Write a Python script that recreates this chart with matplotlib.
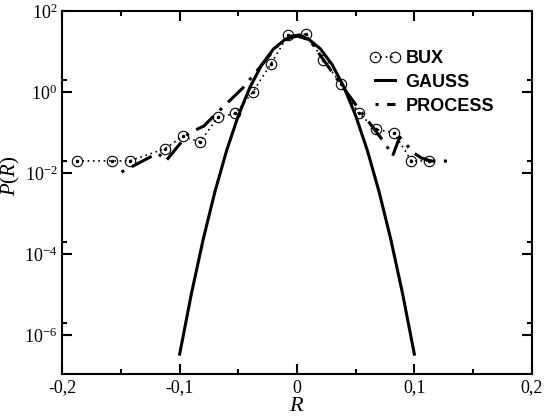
import matplotlib
matplotlib.use('Agg')
import matplotlib.pyplot as plt
from matplotlib.lines import Line2D
from matplotlib.legend_handler import HandlerLine2D
from matplotlib.ticker import FixedLocator, NullFormatter

plt.rcParams['font.family'] = 'Liberation Serif'
plt.rcParams['mathtext.fontset'] = 'custom'
plt.rcParams['mathtext.rm'] = 'Liberation Serif'
plt.rcParams['mathtext.it'] = 'Liberation Serif:italic'

# BUX histogram (bin centres, density)
bux_r = [-0.1875, -0.1575, -0.1425, -0.1125, -0.0975, -0.0825, -0.0675, -0.0525, -0.0375,
         -0.0225, -0.0075, 0.0075, 0.0225, 0.0375, 0.0525, 0.0675, 0.0825, 0.0975, 0.1125]
bux_p = [0.020, 0.020, 0.020, 0.040, 0.080, 0.059, 0.237, 0.298, 1.02,
         4.83, 25.5, 26.6, 6.2, 1.58, 0.30, 0.12, 0.099, 0.020, 0.020]

# Gaussian fit
gauss_r = [-0.10, -0.09, -0.08, -0.07, -0.06, -0.05, -0.04, -0.03, -0.02, -0.01, 0.0,
           0.01, 0.02, 0.03, 0.04, 0.05, 0.06, 0.07, 0.08, 0.09, 0.10]
gauss_p = [3.4e-7, 1.05e-5, 2.27e-4, 3.42e-3, 3.58e-2, 0.262, 1.33, 4.72, 11.6, 20.0, 24.0,
           20.0, 11.6, 4.72, 1.33, 0.262, 3.58e-2, 3.42e-3, 2.27e-4, 1.05e-5, 3.4e-7]

# simulated process
proc_r = [-0.1495, -0.1186, -0.1118, -0.0922, -0.0794, -0.0718, -0.0462, -0.0301, -0.0147,
          -0.0045, 0.0023, 0.0108, 0.0304, 0.0534, 0.0755, 0.0815, 0.0874, 0.0908, 0.0985,
          0.1062, 0.1147, 0.130]
proc_p = [0.0106, 0.0312, 0.0198, 0.0972, 0.1445, 0.241, 1.26, 4.64, 16.2,
          24.2, 25.5, 19.2, 2.95, 0.36, 0.052, 0.0263, 0.0775, 0.0617, 0.033,
          0.0234, 0.0198, 0.0198]

fig = plt.figure(figsize=(5.45, 4.18), dpi=100)
ax = fig.add_axes([62.3 / 545, 1 - 374 / 418, (531.7 - 62.3) / 545, (374 - 11) / 418])

ax.plot(bux_r, bux_p, color='black', linestyle=(0, (1, 2.2)), linewidth=1.2,
        marker='o', markersize=7.5, markerfacecolor='none', markeredgewidth=0.8,
        label='BUX')
ax.plot(bux_r, bux_p, linestyle='none', marker='o', markersize=1.5, color='black')
ax.plot(gauss_r, gauss_p, color='black', linewidth=2.2, label='GAUSS')
ax.plot(proc_r, proc_p, color='black', linewidth=2.2, linestyle=(10.1, (7.3, 2.8, 1, 2.8)),
        dash_capstyle='butt', label='PROCESS')

ax.set_yscale('log')
ax.set_xlim(-0.2, 0.2)
ax.set_ylim(1.1e-7, 100)

ax.set_xticks([-0.2, -0.1, 0, 0.1, 0.2])
ax.set_xticklabels(['-0,2', '-0,1', '0', '0,1', '0,2'])
ax.set_xticks([-0.15, -0.05, 0.05, 0.15], minor=True)
ax.yaxis.set_major_locator(FixedLocator([1e-6, 1e-4, 1e-2, 1, 1e2]))
ax.yaxis.set_minor_locator(FixedLocator([2e-6, 2e-4, 2e-2, 2]))
ax.yaxis.set_minor_formatter(NullFormatter())
ax.set_yticklabels(['$10^{-6}$', '$10^{-4}$', '$10^{-2}$', '$10^{0}$', '$10^{2}$'])

ax.tick_params(which='both', direction='in', top=True, right=True, width=1.5,
               labelsize=13)
ax.tick_params(which='major', length=7)
ax.tick_params(which='minor', length=3.8)
ax.tick_params(axis='x', pad=4)
for s in ax.spines.values():
    s.set_linewidth(1.5)

ax.set_xlabel('$R$', fontsize=16, labelpad=0)
ax.set_ylabel('$P(R)$', fontsize=15)
ax.yaxis.set_label_coords(-0.086, 0.545)

handles, labels = ax.get_legend_handles_labels()
ax.legend(handles, labels, loc='upper left', bbox_to_anchor=(0.666, 0.893),
          frameon=False, numpoints=2, handlelength=1.1, handletextpad=0.6,
          labelspacing=0.38, borderpad=0, borderaxespad=0,
          handler_map={Line2D: HandlerLine2D(marker_pad=0)},
          prop={'family': 'Liberation Sans', 'weight': 'bold', 'size': 13})

plt.savefig('out.png', dpi=100)
